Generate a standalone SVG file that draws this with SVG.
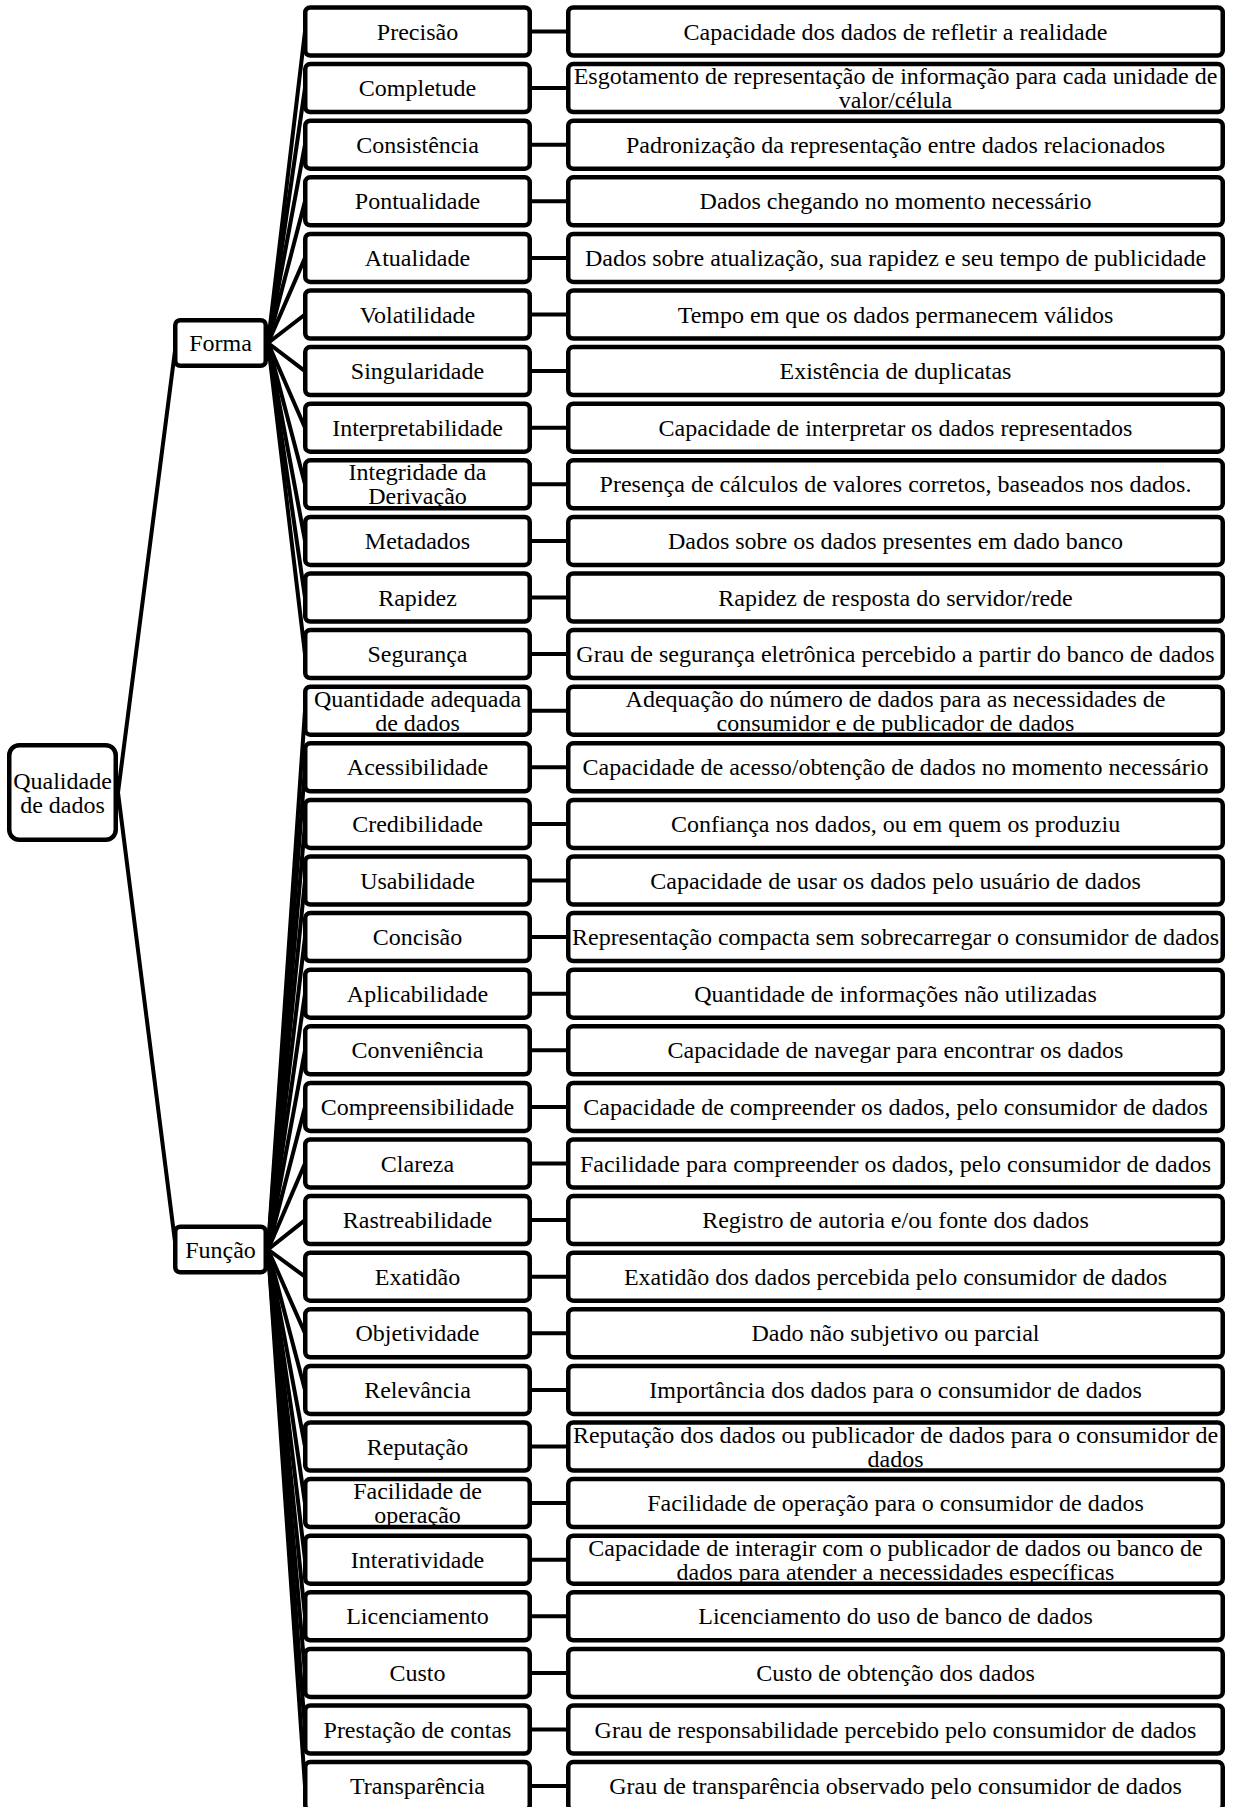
<svg xmlns="http://www.w3.org/2000/svg" width="1235" height="1807" viewBox="0 0 1235 1807">
<style>
.b{fill:#fff;stroke:#000;stroke-width:4.5}
.t{font-family:"Liberation Serif","Times New Roman",serif;font-size:24px;fill:#000;text-anchor:middle}
.c{stroke:#000;stroke-width:4;fill:none;stroke-linecap:round}
</style>
<rect width="1235" height="1807" fill="#fff"/>
<g id="connectors" class="c">
<line x1="118" y1="792.5" x2="176" y2="343"/>
<line x1="118" y1="792.5" x2="176" y2="1249.5"/>
<line x1="268" y1="343" x2="305" y2="31.5"/>
<line x1="268" y1="343" x2="305" y2="88.1"/>
<line x1="268" y1="343" x2="305" y2="144.7"/>
<line x1="268" y1="343" x2="305" y2="201.3"/>
<line x1="268" y1="343" x2="305" y2="257.9"/>
<line x1="268" y1="343" x2="305" y2="314.5"/>
<line x1="268" y1="343" x2="305" y2="371.1"/>
<line x1="268" y1="343" x2="305" y2="427.7"/>
<line x1="268" y1="343" x2="305" y2="484.3"/>
<line x1="268" y1="343" x2="305" y2="540.9"/>
<line x1="268" y1="343" x2="305" y2="597.5"/>
<line x1="268" y1="343" x2="305" y2="654.1"/>
<line x1="268" y1="1249.5" x2="305" y2="710.7"/>
<line x1="268" y1="1249.5" x2="305" y2="767.3"/>
<line x1="268" y1="1249.5" x2="305" y2="823.9"/>
<line x1="268" y1="1249.5" x2="305" y2="880.5"/>
<line x1="268" y1="1249.5" x2="305" y2="937.1"/>
<line x1="268" y1="1249.5" x2="305" y2="993.7"/>
<line x1="268" y1="1249.5" x2="305" y2="1050.3"/>
<line x1="268" y1="1249.5" x2="305" y2="1106.9"/>
<line x1="268" y1="1249.5" x2="305" y2="1163.5"/>
<line x1="268" y1="1249.5" x2="305" y2="1220.1"/>
<line x1="268" y1="1249.5" x2="305" y2="1276.7"/>
<line x1="268" y1="1249.5" x2="305" y2="1333.3"/>
<line x1="268" y1="1249.5" x2="305" y2="1389.9"/>
<line x1="268" y1="1249.5" x2="305" y2="1446.5"/>
<line x1="268" y1="1249.5" x2="305" y2="1503.1"/>
<line x1="268" y1="1249.5" x2="305" y2="1559.7"/>
<line x1="268" y1="1249.5" x2="305" y2="1616.3"/>
<line x1="268" y1="1249.5" x2="305" y2="1672.9"/>
<line x1="268" y1="1249.5" x2="305" y2="1729.5"/>
<line x1="268" y1="1249.5" x2="305" y2="1786.1"/>
<line x1="532" y1="31.5" x2="566" y2="31.5"/>
<line x1="532" y1="88.1" x2="566" y2="88.1"/>
<line x1="532" y1="144.7" x2="566" y2="144.7"/>
<line x1="532" y1="201.3" x2="566" y2="201.3"/>
<line x1="532" y1="257.9" x2="566" y2="257.9"/>
<line x1="532" y1="314.5" x2="566" y2="314.5"/>
<line x1="532" y1="371.1" x2="566" y2="371.1"/>
<line x1="532" y1="427.7" x2="566" y2="427.7"/>
<line x1="532" y1="484.3" x2="566" y2="484.3"/>
<line x1="532" y1="540.9" x2="566" y2="540.9"/>
<line x1="532" y1="597.5" x2="566" y2="597.5"/>
<line x1="532" y1="654.1" x2="566" y2="654.1"/>
<line x1="532" y1="710.7" x2="566" y2="710.7"/>
<line x1="532" y1="767.3" x2="566" y2="767.3"/>
<line x1="532" y1="823.9" x2="566" y2="823.9"/>
<line x1="532" y1="880.5" x2="566" y2="880.5"/>
<line x1="532" y1="937.1" x2="566" y2="937.1"/>
<line x1="532" y1="993.7" x2="566" y2="993.7"/>
<line x1="532" y1="1050.3" x2="566" y2="1050.3"/>
<line x1="532" y1="1106.9" x2="566" y2="1106.9"/>
<line x1="532" y1="1163.5" x2="566" y2="1163.5"/>
<line x1="532" y1="1220.1" x2="566" y2="1220.1"/>
<line x1="532" y1="1276.7" x2="566" y2="1276.7"/>
<line x1="532" y1="1333.3" x2="566" y2="1333.3"/>
<line x1="532" y1="1389.9" x2="566" y2="1389.9"/>
<line x1="532" y1="1446.5" x2="566" y2="1446.5"/>
<line x1="532" y1="1503.1" x2="566" y2="1503.1"/>
<line x1="532" y1="1559.7" x2="566" y2="1559.7"/>
<line x1="532" y1="1616.3" x2="566" y2="1616.3"/>
<line x1="532" y1="1672.9" x2="566" y2="1672.9"/>
<line x1="532" y1="1729.5" x2="566" y2="1729.5"/>
<line x1="532" y1="1786.1" x2="566" y2="1786.1"/>
</g>
<g id="root"><rect class="b" x="9.25" y="745.25" width="106.5" height="94.5" rx="10"/><text class="t" x="62.5"><tspan x="62.5" y="788.5">Qualidade</tspan><tspan x="62.5" y="812.5">de dados</tspan></text></g>
<g id="forma"><rect class="b" x="175.25" y="320.25" width="90.5" height="45.5" rx="5"/><text class="t" x="220.5" y="351">Forma</text></g>
<g id="funcao"><rect class="b" x="175.25" y="1226.75" width="90.5" height="45.5" rx="5"/><text class="t" x="220.5" y="1257.5">Função</text></g>

<g id="n0"><rect class="b" x="305.25" y="7.5" width="224.5" height="48" rx="5"/><text class="t" x="417.5" y="39.5">Precisão</text></g>
<g id="d0"><rect class="b" x="568.25" y="7.5" width="654.5" height="48" rx="5"/><text class="t" x="895.5" y="39.5">Capacidade dos dados de refletir a realidade</text></g>
<g id="n1"><rect class="b" x="305.25" y="64.1" width="224.5" height="48" rx="5"/><text class="t" x="417.5" y="96.1">Completude</text></g>
<g id="d1"><rect class="b" x="568.25" y="64.1" width="654.5" height="48" rx="5"/><text class="t"><tspan x="895.5" y="84.1">Esgotamento de representação de informação para cada unidade de</tspan><tspan x="895.5" y="108.1">valor/célula</tspan></text></g>
<g id="n2"><rect class="b" x="305.25" y="120.7" width="224.5" height="48" rx="5"/><text class="t" x="417.5" y="152.7">Consistência</text></g>
<g id="d2"><rect class="b" x="568.25" y="120.7" width="654.5" height="48" rx="5"/><text class="t" x="895.5" y="152.7">Padronização da representação entre dados relacionados</text></g>
<g id="n3"><rect class="b" x="305.25" y="177.3" width="224.5" height="48" rx="5"/><text class="t" x="417.5" y="209.3">Pontualidade</text></g>
<g id="d3"><rect class="b" x="568.25" y="177.3" width="654.5" height="48" rx="5"/><text class="t" x="895.5" y="209.3">Dados chegando no momento necessário</text></g>
<g id="n4"><rect class="b" x="305.25" y="233.9" width="224.5" height="48" rx="5"/><text class="t" x="417.5" y="265.9">Atualidade</text></g>
<g id="d4"><rect class="b" x="568.25" y="233.9" width="654.5" height="48" rx="5"/><text class="t" x="895.5" y="265.9">Dados sobre atualização, sua rapidez e seu tempo de publicidade</text></g>
<g id="n5"><rect class="b" x="305.25" y="290.5" width="224.5" height="48" rx="5"/><text class="t" x="417.5" y="322.5">Volatilidade</text></g>
<g id="d5"><rect class="b" x="568.25" y="290.5" width="654.5" height="48" rx="5"/><text class="t" x="895.5" y="322.5">Tempo em que os dados permanecem válidos</text></g>
<g id="n6"><rect class="b" x="305.25" y="347.1" width="224.5" height="48" rx="5"/><text class="t" x="417.5" y="379.1">Singularidade</text></g>
<g id="d6"><rect class="b" x="568.25" y="347.1" width="654.5" height="48" rx="5"/><text class="t" x="895.5" y="379.1">Existência de duplicatas</text></g>
<g id="n7"><rect class="b" x="305.25" y="403.7" width="224.5" height="48" rx="5"/><text class="t" x="417.5" y="435.7">Interpretabilidade</text></g>
<g id="d7"><rect class="b" x="568.25" y="403.7" width="654.5" height="48" rx="5"/><text class="t" x="895.5" y="435.7">Capacidade de interpretar os dados representados</text></g>
<g id="n8"><rect class="b" x="305.25" y="460.3" width="224.5" height="48" rx="5"/><text class="t"><tspan x="417.5" y="480.3">Integridade da</tspan><tspan x="417.5" y="504.3">Derivação</tspan></text></g>
<g id="d8"><rect class="b" x="568.25" y="460.3" width="654.5" height="48" rx="5"/><text class="t" x="895.5" y="492.3">Presença de cálculos de valores corretos, baseados nos dados.</text></g>
<g id="n9"><rect class="b" x="305.25" y="516.9" width="224.5" height="48" rx="5"/><text class="t" x="417.5" y="548.9">Metadados</text></g>
<g id="d9"><rect class="b" x="568.25" y="516.9" width="654.5" height="48" rx="5"/><text class="t" x="895.5" y="548.9">Dados sobre os dados presentes em dado banco</text></g>
<g id="n10"><rect class="b" x="305.25" y="573.5" width="224.5" height="48" rx="5"/><text class="t" x="417.5" y="605.5">Rapidez</text></g>
<g id="d10"><rect class="b" x="568.25" y="573.5" width="654.5" height="48" rx="5"/><text class="t" x="895.5" y="605.5">Rapidez de resposta do servidor/rede</text></g>
<g id="n11"><rect class="b" x="305.25" y="630.1" width="224.5" height="48" rx="5"/><text class="t" x="417.5" y="662.1">Segurança</text></g>
<g id="d11"><rect class="b" x="568.25" y="630.1" width="654.5" height="48" rx="5"/><text class="t" x="895.5" y="662.1">Grau de segurança eletrônica percebido a partir do banco de dados</text></g>
<g id="n12"><rect class="b" x="305.25" y="686.7" width="224.5" height="48" rx="5"/><text class="t"><tspan x="417.5" y="706.7">Quantidade adequada</tspan><tspan x="417.5" y="730.7">de dados</tspan></text></g>
<g id="d12"><rect class="b" x="568.25" y="686.7" width="654.5" height="48" rx="5"/><text class="t"><tspan x="895.5" y="706.7">Adequação do número de dados para as necessidades de</tspan><tspan x="895.5" y="730.7">consumidor e de publicador de dados</tspan></text></g>
<g id="n13"><rect class="b" x="305.25" y="743.3" width="224.5" height="48" rx="5"/><text class="t" x="417.5" y="775.3">Acessibilidade</text></g>
<g id="d13"><rect class="b" x="568.25" y="743.3" width="654.5" height="48" rx="5"/><text class="t" x="895.5" y="775.3">Capacidade de acesso/obtenção de dados no momento necessário</text></g>
<g id="n14"><rect class="b" x="305.25" y="799.9" width="224.5" height="48" rx="5"/><text class="t" x="417.5" y="831.9">Credibilidade</text></g>
<g id="d14"><rect class="b" x="568.25" y="799.9" width="654.5" height="48" rx="5"/><text class="t" x="895.5" y="831.9">Confiança nos dados, ou em quem os produziu</text></g>
<g id="n15"><rect class="b" x="305.25" y="856.5" width="224.5" height="48" rx="5"/><text class="t" x="417.5" y="888.5">Usabilidade</text></g>
<g id="d15"><rect class="b" x="568.25" y="856.5" width="654.5" height="48" rx="5"/><text class="t" x="895.5" y="888.5">Capacidade de usar os dados pelo usuário de dados</text></g>
<g id="n16"><rect class="b" x="305.25" y="913.1" width="224.5" height="48" rx="5"/><text class="t" x="417.5" y="945.1">Concisão</text></g>
<g id="d16"><rect class="b" x="568.25" y="913.1" width="654.5" height="48" rx="5"/><text class="t" x="895.5" y="945.1">Representação compacta sem sobrecarregar o consumidor de dados</text></g>
<g id="n17"><rect class="b" x="305.25" y="969.7" width="224.5" height="48" rx="5"/><text class="t" x="417.5" y="1001.7">Aplicabilidade</text></g>
<g id="d17"><rect class="b" x="568.25" y="969.7" width="654.5" height="48" rx="5"/><text class="t" x="895.5" y="1001.7">Quantidade de informações não utilizadas</text></g>
<g id="n18"><rect class="b" x="305.25" y="1026.3" width="224.5" height="48" rx="5"/><text class="t" x="417.5" y="1058.3">Conveniência</text></g>
<g id="d18"><rect class="b" x="568.25" y="1026.3" width="654.5" height="48" rx="5"/><text class="t" x="895.5" y="1058.3">Capacidade de navegar para encontrar os dados</text></g>
<g id="n19"><rect class="b" x="305.25" y="1082.9" width="224.5" height="48" rx="5"/><text class="t" x="417.5" y="1114.9">Compreensibilidade</text></g>
<g id="d19"><rect class="b" x="568.25" y="1082.9" width="654.5" height="48" rx="5"/><text class="t" x="895.5" y="1114.9">Capacidade de compreender os dados, pelo consumidor de dados</text></g>
<g id="n20"><rect class="b" x="305.25" y="1139.5" width="224.5" height="48" rx="5"/><text class="t" x="417.5" y="1171.5">Clareza</text></g>
<g id="d20"><rect class="b" x="568.25" y="1139.5" width="654.5" height="48" rx="5"/><text class="t" x="895.5" y="1171.5">Facilidade para compreender os dados, pelo consumidor de dados</text></g>
<g id="n21"><rect class="b" x="305.25" y="1196.1" width="224.5" height="48" rx="5"/><text class="t" x="417.5" y="1228.1">Rastreabilidade</text></g>
<g id="d21"><rect class="b" x="568.25" y="1196.1" width="654.5" height="48" rx="5"/><text class="t" x="895.5" y="1228.1">Registro de autoria e/ou fonte dos dados</text></g>
<g id="n22"><rect class="b" x="305.25" y="1252.7" width="224.5" height="48" rx="5"/><text class="t" x="417.5" y="1284.7">Exatidão</text></g>
<g id="d22"><rect class="b" x="568.25" y="1252.7" width="654.5" height="48" rx="5"/><text class="t" x="895.5" y="1284.7">Exatidão dos dados percebida pelo consumidor de dados</text></g>
<g id="n23"><rect class="b" x="305.25" y="1309.3" width="224.5" height="48" rx="5"/><text class="t" x="417.5" y="1341.3">Objetividade</text></g>
<g id="d23"><rect class="b" x="568.25" y="1309.3" width="654.5" height="48" rx="5"/><text class="t" x="895.5" y="1341.3">Dado não subjetivo ou parcial</text></g>
<g id="n24"><rect class="b" x="305.25" y="1365.9" width="224.5" height="48" rx="5"/><text class="t" x="417.5" y="1397.9">Relevância</text></g>
<g id="d24"><rect class="b" x="568.25" y="1365.9" width="654.5" height="48" rx="5"/><text class="t" x="895.5" y="1397.9">Importância dos dados para o consumidor de dados</text></g>
<g id="n25"><rect class="b" x="305.25" y="1422.5" width="224.5" height="48" rx="5"/><text class="t" x="417.5" y="1454.5">Reputação</text></g>
<g id="d25"><rect class="b" x="568.25" y="1422.5" width="654.5" height="48" rx="5"/><text class="t"><tspan x="895.5" y="1442.5">Reputação dos dados ou publicador de dados para o consumidor de</tspan><tspan x="895.5" y="1466.5">dados</tspan></text></g>
<g id="n26"><rect class="b" x="305.25" y="1479.1" width="224.5" height="48" rx="5"/><text class="t"><tspan x="417.5" y="1499.1">Facilidade de</tspan><tspan x="417.5" y="1523.1">operação</tspan></text></g>
<g id="d26"><rect class="b" x="568.25" y="1479.1" width="654.5" height="48" rx="5"/><text class="t" x="895.5" y="1511.1">Facilidade de operação para o consumidor de dados</text></g>
<g id="n27"><rect class="b" x="305.25" y="1535.7" width="224.5" height="48" rx="5"/><text class="t" x="417.5" y="1567.7">Interatividade</text></g>
<g id="d27"><rect class="b" x="568.25" y="1535.7" width="654.5" height="48" rx="5"/><text class="t"><tspan x="895.5" y="1555.7">Capacidade de interagir com o publicador de dados ou banco de</tspan><tspan x="895.5" y="1579.7">dados para atender a necessidades específicas</tspan></text></g>
<g id="n28"><rect class="b" x="305.25" y="1592.3" width="224.5" height="48" rx="5"/><text class="t" x="417.5" y="1624.3">Licenciamento</text></g>
<g id="d28"><rect class="b" x="568.25" y="1592.3" width="654.5" height="48" rx="5"/><text class="t" x="895.5" y="1624.3">Licenciamento do uso de banco de dados</text></g>
<g id="n29"><rect class="b" x="305.25" y="1648.9" width="224.5" height="48" rx="5"/><text class="t" x="417.5" y="1680.9">Custo</text></g>
<g id="d29"><rect class="b" x="568.25" y="1648.9" width="654.5" height="48" rx="5"/><text class="t" x="895.5" y="1680.9">Custo de obtenção dos dados</text></g>
<g id="n30"><rect class="b" x="305.25" y="1705.5" width="224.5" height="48" rx="5"/><text class="t" x="417.5" y="1737.5">Prestação de contas</text></g>
<g id="d30"><rect class="b" x="568.25" y="1705.5" width="654.5" height="48" rx="5"/><text class="t" x="895.5" y="1737.5">Grau de responsabilidade percebido pelo consumidor de dados</text></g>
<g id="n31"><rect class="b" x="305.25" y="1762.1" width="224.5" height="48" rx="5"/><text class="t" x="417.5" y="1794.1">Transparência</text></g>
<g id="d31"><rect class="b" x="568.25" y="1762.1" width="654.5" height="48" rx="5"/><text class="t" x="895.5" y="1794.1">Grau de transparência observado pelo consumidor de dados</text></g>
</svg>
